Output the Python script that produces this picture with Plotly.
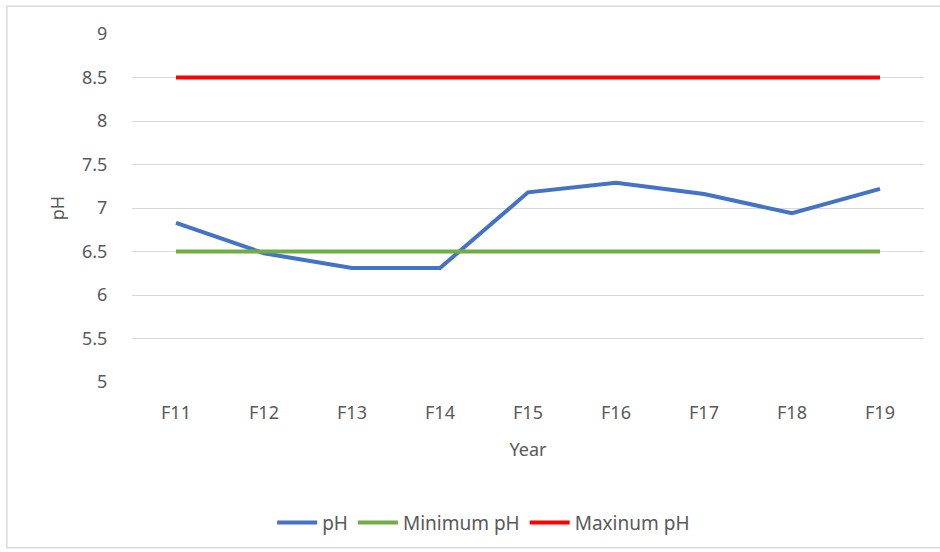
import plotly.graph_objects as go

years = ["F11", "F12", "F13", "F14", "F15", "F16", "F17", "F18", "F19"]
ph_values = [6.83, 6.48, 6.31, 6.31, 7.18, 7.29, 7.16, 6.94, 7.22]
min_ph = [6.5] * len(years)
max_ph = [8.5] * len(years)
y_ticks = [5, 5.5, 6, 6.5, 7, 7.5, 8, 8.5, 9]
y_tick_labels = ["5", "5.5", "6", "6.5", "7", "7.5", "8", "8.5", "9"]

font_family = "Noto Sans, Open Sans, sans-serif"
text_color = "#595959"

fig = go.Figure()
fig.add_trace(go.Scatter(x=years, y=ph_values, mode="lines", name="pH",
                         line=dict(color="#4472C4", width=4)))
fig.add_trace(go.Scatter(x=years, y=min_ph, mode="lines", name="Minimum pH",
                         line=dict(color="#70AD47", width=4)))
fig.add_trace(go.Scatter(x=years, y=max_ph, mode="lines", name="Maxinum pH",
                         line=dict(color="#FF0000", width=4)))

fig.update_layout(
    width=940, height=552,
    margin=dict(l=132, r=16, t=34, b=169),
    paper_bgcolor="white", plot_bgcolor="white",
    font=dict(family=font_family, size=18, color=text_color),
    showlegend=True,
    legend=dict(orientation="h", x=0.444, xanchor="center", y=-0.4,
                yanchor="middle", font=dict(size=19, color=text_color),
                itemwidth=40, tracegroupgap=0),
    xaxis=dict(
        type="category", range=[-0.5, 8.5], showgrid=False, zeroline=False,
        showline=False, ticks="outside", ticklen=14, tickcolor="rgba(0,0,0,0)",
        title=dict(text="Year", standoff=20, font=dict(size=18, color=text_color)),
        tickfont=dict(size=18, color=text_color),
    ),
    yaxis=dict(
        range=[5, 9], tickvals=y_ticks, ticktext=y_tick_labels,
        showgrid=True, gridcolor="#D9D9D9", gridwidth=1, zeroline=False,
        showline=False, ticks="outside", ticklen=20, tickcolor="rgba(0,0,0,0)",
        title=dict(text="pH", standoff=12, font=dict(size=18, color=text_color)),
        tickfont=dict(size=18, color=text_color),
    ),
    shapes=[dict(type="rect", xref="paper", yref="paper",
                 x0=-0.158, x1=1.03, y0=-0.476, y1=1.080,
                 line=dict(color="#D9D9D9", width=1.5), layer="below")],
)

fig.write_html("out.html")
